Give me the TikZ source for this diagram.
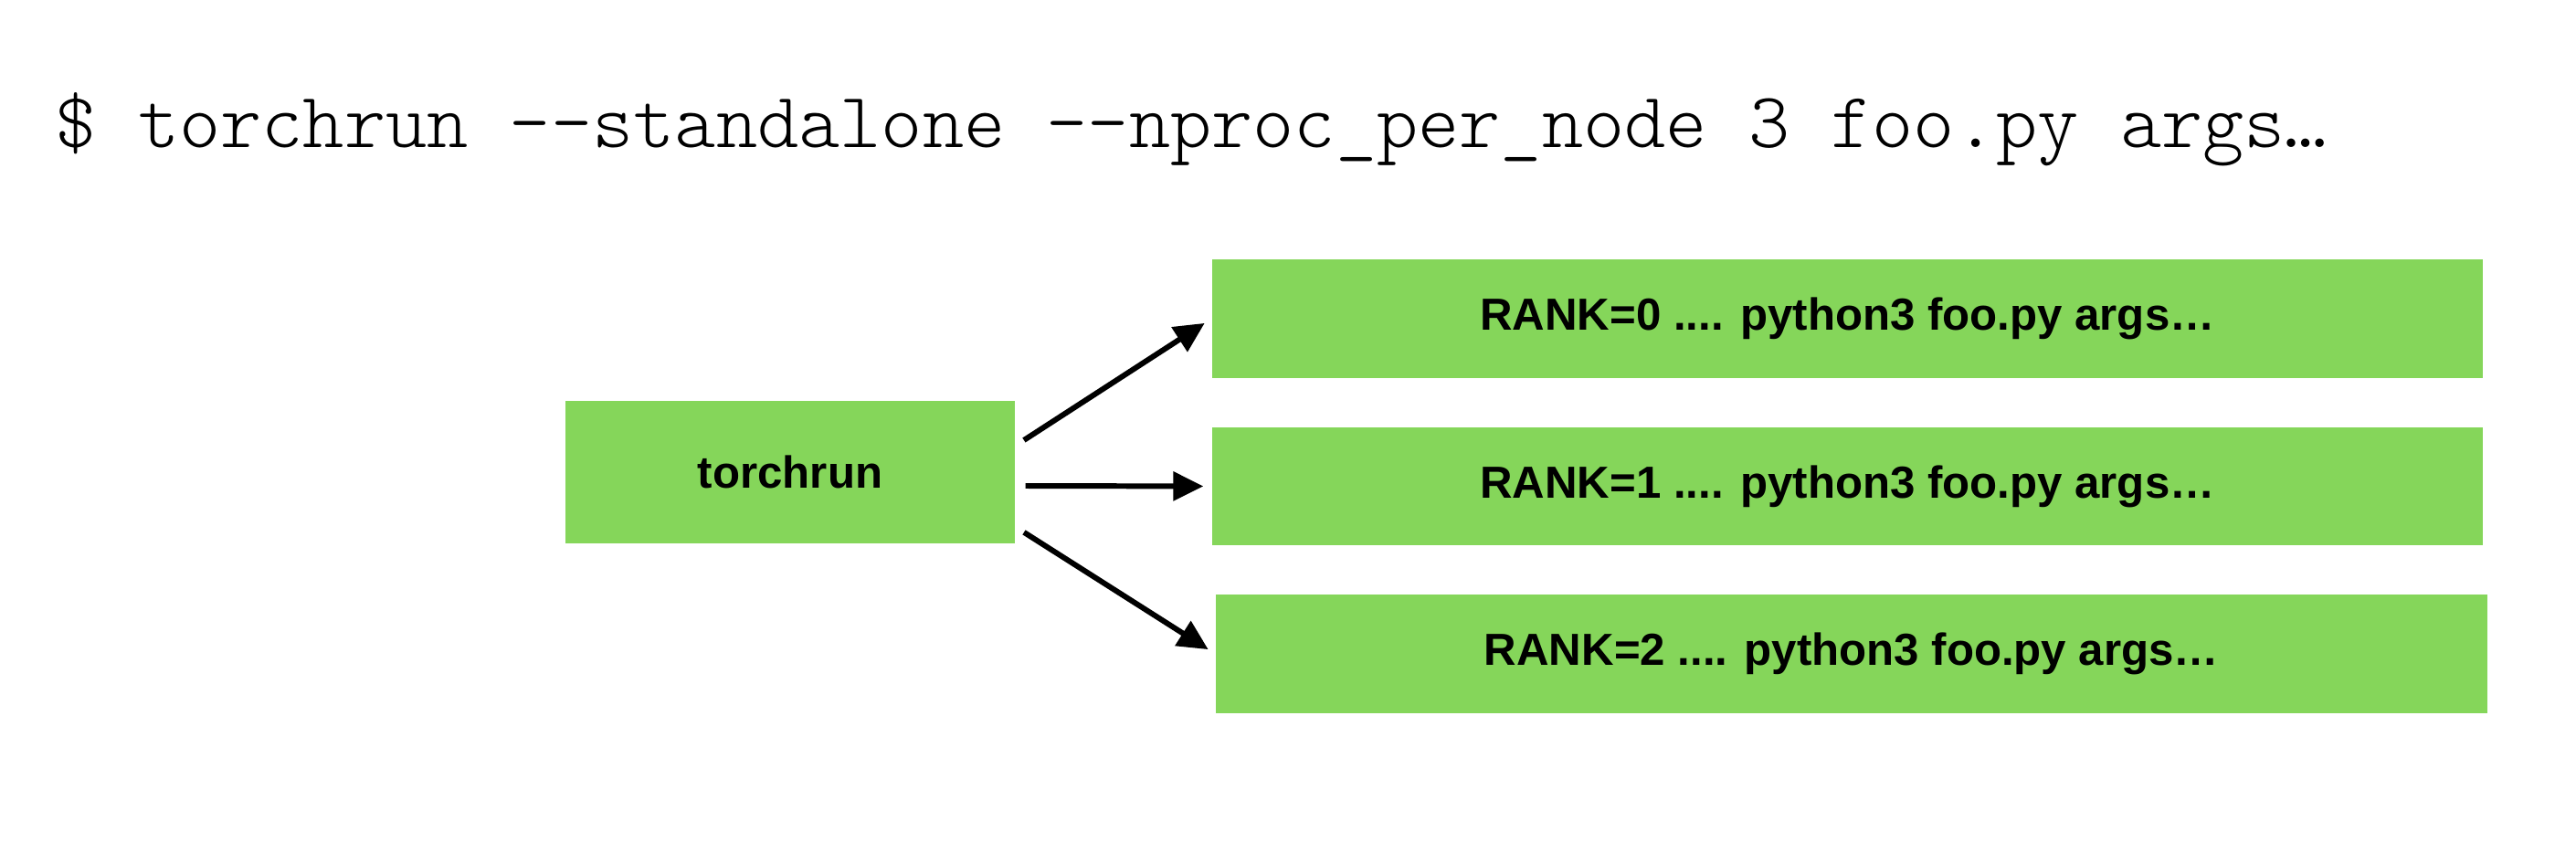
\documentclass[tikz,border=0pt]{standalone}
\usepackage{fontspec}
\setmainfont{Liberation Sans}
\newfontfamily\cmdfont{Latin Modern Mono Light}
\usetikzlibrary{arrows.meta}
\definecolor{RunGreen}{HTML}{85D65A}
\definecolor{RunInk}{HTML}{000000}

\begin{document}
\begin{tikzpicture}[
    procbox/.style={fill=RunGreen,draw=none,inner sep=0pt,text=RunInk,
      font=\bfseries\fontsize{14}{16}\selectfont},
    spawn/.style={-{Triangle[length=3.3mm,width=3.1mm]},RunInk,line width=1.7pt,
      shorten <=1.1mm,shorten >=0.9mm}]
  \useasboundingbox (0,0) rectangle (28.2,9.22);

  \node[anchor=base west,text=RunInk,inner sep=0pt,
    font=\cmdfont\fontsize{24.5}{29}\selectfont] (cmd)
    at (0.6,7.6) {\$ torchrun --standalone --nproc\_per\_node 3 foo.py args…};

  \node[procbox,minimum width=4.92cm,minimum height=1.56cm] (tr)
    at (8.65,4.05) {torchrun};

  \node[procbox,minimum width=13.91cm,minimum height=1.30cm] (r0)
    at (20.225,5.73) {RANK=0 .... python3 foo.py args…};
  \node[procbox,minimum width=13.91cm,minimum height=1.29cm] (r1)
    at (20.225,3.895) {RANK=1 .... python3 foo.py args…};
  \node[procbox,minimum width=13.92cm,minimum height=1.30cm] (r2)
    at (20.27,2.06) {RANK=2 .... python3 foo.py args…};

  \draw[spawn] ([yshift=2.9mm]tr.east) -- (r0.west);
  \draw[spawn] ([yshift=-1.5mm]tr.east) -- (r1.west);
  \draw[spawn] ([yshift=-6.0mm]tr.east) -- (r2.west);
\end{tikzpicture}
\end{document}
